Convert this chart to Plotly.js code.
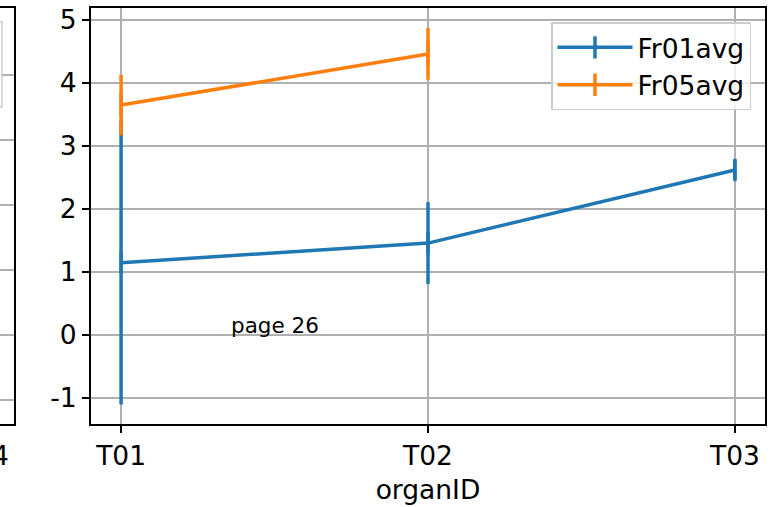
<!DOCTYPE html>
<html>
<head>
<meta charset="utf-8">
<script src="https://cdn.plot.ly/plotly-3.0.1.min.js"></script>
<style>html,body{margin:0;padding:0;background:#fff;}#chart{width:773px;height:507px;}</style>
</head>
<body>
<div id="chart"></div>
<script>
const organIDs = ['T01', 'T02', 'T03'];
const fr01avg = [1.15, 1.46, 2.62];
const fr01err = [2.25, 0.65, 0.15];
const fr05avg = [3.65, 4.46, null];
const fr05err = [0.48, 0.41, null];
const yTickVals = [-1, 0, 1, 2, 3, 4, 5];
const yTickText = ['-1', '0', '1', '2', '3', '4', '5'];
const noteText = 'page 26';
const prevXTicks = [4];
const prevYGrid = [0, 1, 2, 3, 4, 5];

const FONT = 'DejaVu Sans, sans-serif';
const FS = 26.5;
const blue = '#1f77b4', orange = '#ff7f0e';

function series(name, y, err, color) {
  return {
    type: 'scatter', mode: 'lines+markers', name: name,
    x: organIDs, y: y, xaxis: 'x', yaxis: 'y',
    line: {color: color, width: 3.5},
    marker: {symbol: 'line-ns', size: 16, color: color, line: {color: color, width: 3.5}},
    error_y: {type: 'data', array: err, visible: true, color: color, thickness: 3.5, width: 0},
    connectgaps: false
  };
}

const traces = [
  series('Fr01avg', fr01avg, fr01err, blue),
  series('Fr05avg', fr05avg, fr05err, orange),
  {type: 'scatter', mode: 'none', x: [], y: [], xaxis: 'x2', yaxis: 'y2', showlegend: false, hoverinfo: 'skip'}
];

const W = 773;
const layout = {
  width: 773, height: 507,
  margin: {l: 0, r: 0, t: 8, b: 83},
  paper_bgcolor: '#fff', plot_bgcolor: '#fff',
  font: {family: FONT, size: FS, color: '#000'},
  showlegend: true,
  legend: {
    x: 751 / W, y: 0.966, xanchor: 'right', yanchor: 'top',
    bgcolor: 'rgba(255,255,255,0.8)', bordercolor: '#cccccc', borderwidth: 1.5,
    itemwidth: 75,
    font: {family: FONT, size: FS, color: '#000'}
  },
  xaxis: {
    domain: [91 / W, 765 / W], type: 'category', categoryarray: organIDs,
    range: [-0.098, 2.098], showline: true, linecolor: '#000', linewidth: 2, mirror: true,
    ticks: 'outside', ticklen: 7, tickwidth: 1.5, tickcolor: '#000',
    showgrid: true, gridcolor: '#b0b0b0', gridwidth: 1.5, zeroline: false,
    tickfont: {family: FONT, size: FS, color: '#000'},
    title: {text: 'organID', font: {family: FONT, size: FS, color: '#000'}, standoff: 11},
    anchor: 'y'
  },
  yaxis: {
    domain: [0, 1], range: [-1.41, 5.19], tickvals: yTickVals, ticktext: yTickText,
    showline: true, linecolor: '#000', linewidth: 2, mirror: true,
    ticks: 'outside', ticklen: 7, tickwidth: 1.5, tickcolor: '#000',
    showgrid: true, gridcolor: '#b0b0b0', gridwidth: 1.5, zeroline: false,
    tickfont: {family: FONT, size: FS, color: '#000'}, anchor: 'x'
  },
  xaxis2: {
    domain: [0, 14 / W], range: [3.98, 4.68], tickvals: prevXTicks, ticktext: prevXTicks.map(String),
    showline: true, linecolor: '#000', linewidth: 2, mirror: true,
    ticks: 'outside', ticklen: 7, tickcolor: 'rgba(0,0,0,0)', showgrid: false, zeroline: false,
    ticklabeloverflow: 'allow',
    tickfont: {family: FONT, size: FS, color: '#000'}, anchor: 'y2'
  },
  yaxis2: {
    domain: [0, 1], range: [-0.37, 6.03], tickvals: prevYGrid, showticklabels: false,
    showline: true, linecolor: '#000', linewidth: 2, mirror: true, ticks: '',
    showgrid: true, gridcolor: '#b0b0b0', gridwidth: 1.5, zeroline: false, anchor: 'x2'
  },
  shapes: [
    {type: 'rect', xref: 'paper', yref: 'paper', x0: -0.02, x1: 2 / W, y0: (424 - 107) / 416, y1: (424 - 22) / 416,
     fillcolor: 'rgba(255,255,255,0.8)', line: {color: '#cccccc', width: 1.5}, layer: 'above'}
  ],
  annotations: [
    {xref: 'x', yref: 'y', x: 0.5, y: 0.15, text: noteText, showarrow: false,
     xanchor: 'center', yanchor: 'middle', font: {family: FONT, size: 21.5, color: '#000'}}
  ]
};

Plotly.newPlot('chart', traces, layout, {displayModeBar: false, staticPlot: true});
</script>
</body>
</html>
